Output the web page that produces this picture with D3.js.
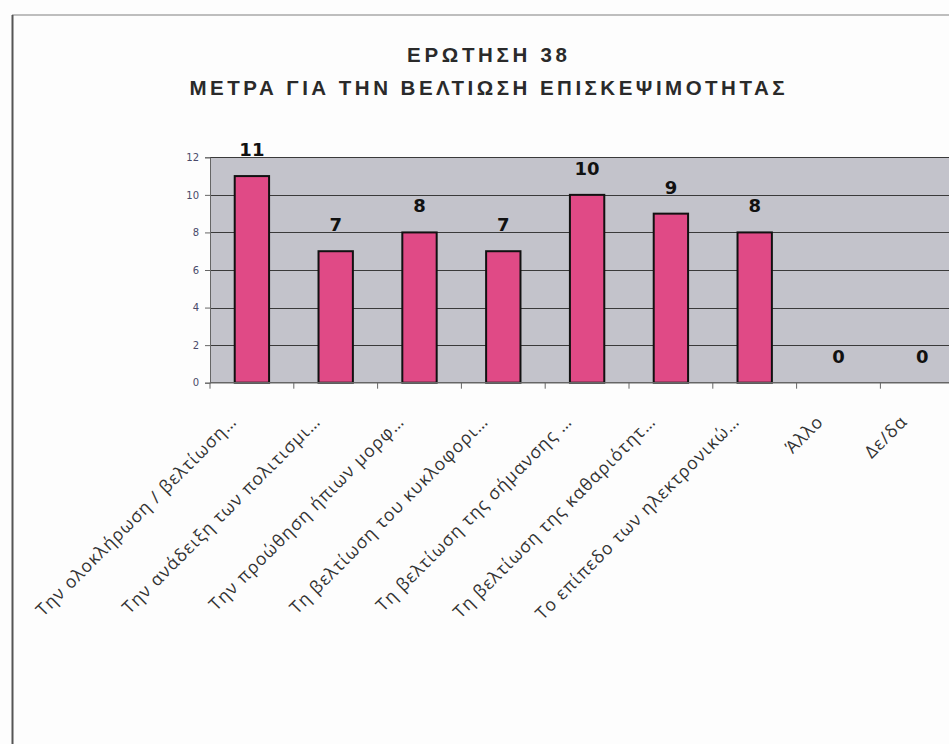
<!DOCTYPE html>
<html>
<head>
<meta charset="utf-8">
<script src="https://cdn.jsdelivr.net/npm/d3@7"></script>
<style>
  html, body { margin: 0; padding: 0; background: #fdfdfd; }
  svg { display: block; }
</style>
</head>
<body>
<svg id="chart" width="949" height="744"></svg>
<script>
const titleLines = ["ΕΡΩΤΗΣΗ 38", "ΜΕΤΡΑ ΓΙΑ ΤΗΝ ΒΕΛΤΙΩΣΗ ΕΠΙΣΚΕΨΙΜΟΤΗΤΑΣ"];
const categories = [
  "Την ολοκλήρωση / βελτίωση…",
  "Την ανάδειξη των πολιτισμι…",
  "Την προώθηση ήπιων μορφ…",
  "Τη βελτίωση του κυκλοφορι…",
  "Τη βελτίωση της σήμανσης …",
  "Τη βελτίωση της καθαριότητ…",
  "Το επίπεδο των ηλεκτρονικώ…",
  "Άλλο",
  "Δε/δα"
];
const values = [11, 7, 8, 7, 10, 9, 8, 0, 0];
const yTicks = [0, 2, 4, 6, 8, 10, 12];

const svg = d3.select("#chart");

// frame lines
svg.append("line").attr("x1", 12).attr("x2", 949).attr("y1", 15).attr("y2", 15)
  .attr("stroke", "#a8a8a8").attr("stroke-width", 1.5);
svg.append("line").attr("x1", 12.5).attr("x2", 12.5).attr("y1", 15).attr("y2", 744)
  .attr("stroke", "#555").attr("stroke-width", 2);

// title
const titleX = 487;
[[titleLines[0], 62, 160], [titleLines[1], 95, 595]].forEach(([t, y, w]) => {
  svg.append("text").attr("x", titleX).attr("y", y)
    .attr("text-anchor", "middle")
    .attr("font-family", "'Liberation Sans', sans-serif")
    .attr("font-weight", "bold")
    .attr("font-size", 20.5)
    .attr("fill", "#2a2a2a")
    .attr("textLength", w).attr("lengthAdjust", "spacing")
    .text(t);
});

const x0 = 210, bw = 83.8;
const x = d3.scaleBand().domain(categories).range([x0, x0 + bw * categories.length]).paddingInner(0.59).paddingOuter(0.295);
const y = d3.scaleLinear().domain([0, 12]).range([382.7, 157.3]);

// plot background
svg.append("rect").attr("x", x0).attr("y", y(12))
  .attr("width", bw * categories.length).attr("height", y(0) - y(12))
  .attr("fill", "#c3c3cb");

// gridlines
svg.append("g").selectAll("line").data(yTicks.filter(d => d > 0)).join("line")
  .attr("x1", x0).attr("x2", 949)
  .attr("y1", d => Math.round(y(d)) + 0.5).attr("y2", d => Math.round(y(d)) + 0.5)
  .attr("stroke", "#3a3a3a").attr("stroke-width", 1);

// y axis
const yAxis = d3.axisLeft(y).tickValues(yTicks).tickSize(5).tickPadding(6);
const gy = svg.append("g").attr("transform", `translate(${x0},0)`).call(yAxis);
gy.select(".domain").attr("stroke", "#666");
gy.selectAll(".tick line").attr("stroke", "#666");
gy.selectAll(".tick text").attr("font-family", "'DejaVu Sans', sans-serif")
  .attr("font-size", 10).attr("fill", "#4a4a6a");

// bars
svg.append("g").selectAll("rect").data(values.map((v, i) => ({c: categories[i], v})))
  .join("rect")
  .filter(d => d.v > 0)
  .attr("x", d => x(d.c)).attr("y", d => y(d.v))
  .attr("width", x.bandwidth()).attr("height", d => y(0) - y(d.v))
  .attr("fill", "#e04a86").attr("stroke", "#111").attr("stroke-width", 2);

// x axis
const xTickPos = d3.range(categories.length + 1).map(i => x0 + i * bw);
svg.append("line").attr("x1", x0).attr("x2", 949).attr("y1", y(0)).attr("y2", y(0))
  .attr("stroke", "#666").attr("stroke-width", 1.5);
svg.append("g").selectAll("line").data(xTickPos).join("line")
  .attr("x1", d => d).attr("x2", d => d).attr("y1", y(0)).attr("y2", y(0) + 6)
  .attr("stroke", "#666");

// value labels
svg.append("g").selectAll("text").data(values.map((v, i) => ({c: categories[i], v})))
  .join("text")
  .attr("x", d => x(d.c) + x.bandwidth() / 2)
  .attr("y", d => y(d.v) - 20)
  .attr("text-anchor", "middle")
  .attr("font-family", "'DejaVu Sans', sans-serif")
  .attr("font-weight", "bold").attr("font-size", 18).attr("fill", "#111")
  .text(d => d.v);

// category labels
svg.append("g").selectAll("text").data(categories).join("text")
  .attr("transform", d => `translate(${x(d) + x.bandwidth() / 2 - 14},${y(0) + 40}) rotate(-45)`)
  .attr("text-anchor", "end")
  .attr("font-family", "'Open Sans', sans-serif")
  .attr("font-size", 17.5).attr("letter-spacing", 1.1).attr("fill", "#333")
  .text(d => d);
</script>
</body>
</html>
